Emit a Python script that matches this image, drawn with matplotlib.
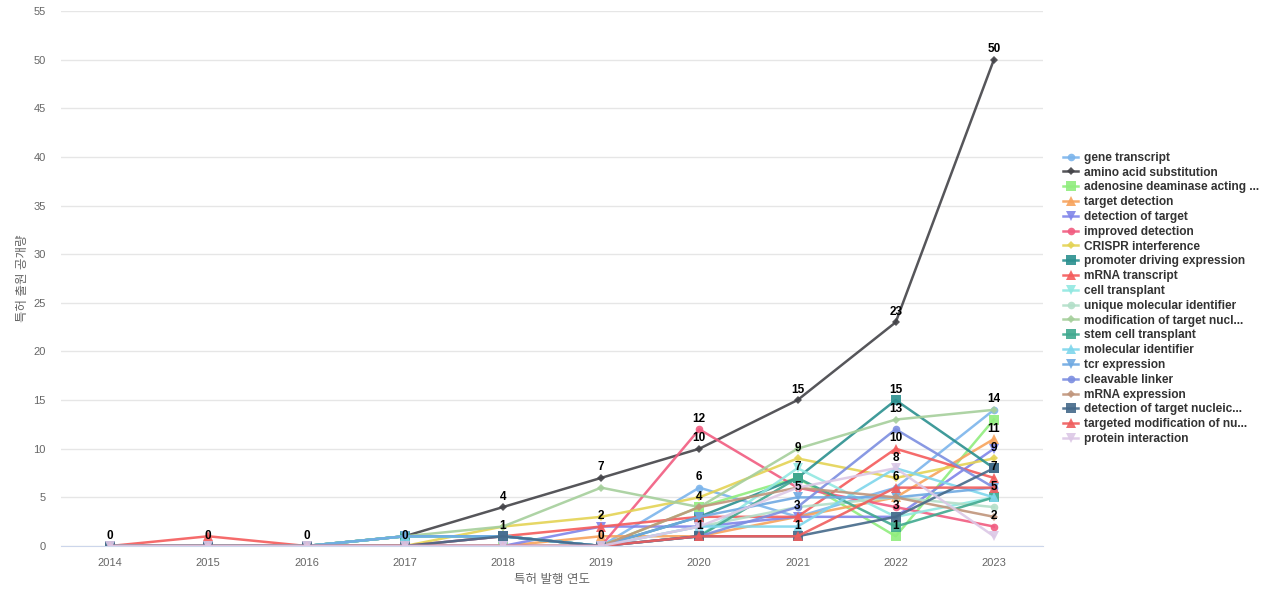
import numpy as np
import matplotlib
matplotlib.use("Agg")
import matplotlib.pyplot as plt

plt.rcParams["font.family"] = ["Liberation Sans", "Noto Sans CJK KR"]

years = [2014, 2015, 2016, 2017, 2018, 2019, 2020, 2021, 2022, 2023]

gene_transcript = [0, 0, 0, 0, 1, 0, 6, 3, 6, 14]
amino_acid_substitution = [0, 0, 0, 1, 4, 7, 10, 15, 23, 50]
adenosine_deaminase = [0, 0, 0, 0, 0, 0, 4, 7, 1, 13]
target_detection = [0, 0, 0, 0, 0, 1, 1, 3, 5, 11]
detection_of_target = [0, 0, 0, 0, 0, 2, 2, 3, 3, 10]
improved_detection = [0, 0, 0, 0, 0, 0, 12, 6, 4, 2]
crispr_interference = [0, 0, 0, 0, 2, 3, 5, 9, 7, 9]
promoter_driving = [0, 0, 0, 1, 1, 0, 3, 7, 15, 8]
mrna_transcript = [0, 1, 0, 0, 1, 2, 3, 3, 10, 7]
cell_transplant = [0, 0, 0, 1, 1, 0, 1, 8, 3, 5]
unique_molecular_id = [0, 0, 0, 1, 1, 0, 2, 4, 5, 4]
modification_target = [0, 0, 0, 1, 2, 6, 4, 10, 13, 14]
stem_cell_transplant = [0, 0, 0, 1, 1, 0, 1, 7, 2, 5]
molecular_identifier = [0, 0, 0, 1, 1, 0, 2, 2, 8, 5]
tcr_expression = [0, 0, 0, 1, 1, 0, 3, 5, 5, 6]
cleavable_linker = [0, 0, 0, 0, 0, 0, 1, 4, 12, 6]
mrna_expression = [0, 0, 0, 0, 0, 0, 4, 6, 5, 3]
detection_nucleic = [0, 0, 0, 0, 1, 0, 1, 1, 3, 8]
targeted_modification = [0, 0, 0, 0, 0, 0, 1, 1, 6, 6]
protein_interaction = [0, 0, 0, 0, 0, 0, 2, 6, 8, 1]

series = [
    ("gene transcript", gene_transcript, "#7cb5ec", "o"),
    ("amino acid substitution", amino_acid_substitution, "#434348", "D"),
    ("adenosine deaminase acting ...", adenosine_deaminase, "#90ed7d", "s"),
    ("target detection", target_detection, "#f7a35c", "^"),
    ("detection of target", detection_of_target, "#8085e9", "v"),
    ("improved detection", improved_detection, "#f15c80", "o"),
    ("CRISPR interference", crispr_interference, "#e4d354", "D"),
    ("promoter driving expression", promoter_driving, "#2b908f", "s"),
    ("mRNA transcript", mrna_transcript, "#f45b5b", "^"),
    ("cell transplant", cell_transplant, "#91e8e1", "v"),
    ("unique molecular identifier", unique_molecular_id, "#b3dfc9", "o"),
    ("modification of target nucl...", modification_target, "#a5cf9b", "D"),
    ("stem cell transplant", stem_cell_transplant, "#40a98f", "s"),
    ("molecular identifier", molecular_identifier, "#7fd6ec", "^"),
    ("tcr expression", tcr_expression, "#6fa9e2", "v"),
    ("cleavable linker", cleavable_linker, "#7c8ee0", "o"),
    ("mRNA expression", mrna_expression, "#c0957b", "D"),
    ("detection of target nucleic...", detection_nucleic, "#45698a", "s"),
    ("targeted modification of nu...", targeted_modification, "#ef5d5d", "^"),
    ("protein interaction", protein_interaction, "#dcc8e6", "v"),
]

fig = plt.figure(figsize=(12.8, 6), dpi=100)
ax = fig.add_axes([61 / 1280, 54 / 600, (1043 - 61) / 1280, (546 - 11) / 600])

x = np.arange(len(years))
for name, vals, color, mk in series:
    ms = 6.5 if mk in ("s", "^", "v") else 5.5
    if mk == "D":
        ms = 4.5
    ax.plot(x, vals, color=color, lw=1.8, alpha=0.9, marker=mk, ms=ms,
            markeredgewidth=0, label=name)

ax.set_xlim(-0.5, len(years) - 0.5)
ax.set_ylim(0, 55)
ax.set_yticks(range(0, 56, 5))
ax.set_xticks(x)
ax.set_xticklabels([str(y) for y in years])
ax.grid(axis="y", color="#e6e6e6", lw=1)
ax.set_axisbelow(True)
for s in ("left", "right", "top"):
    ax.spines[s].set_visible(False)
ax.spines["bottom"].set_color("#ccd6eb")
ax.tick_params(axis="both", length=0, labelsize=8, labelcolor="#666666")
ax.tick_params(axis="x", pad=9)
ax.tick_params(axis="y", pad=11)
ax.set_xlabel("특허 발행 연도", fontsize=9, color="#666666", labelpad=4)
ax.set_ylabel("특허 출원 공개량", fontsize=9, color="#666666", labelpad=3)

# data labels, hidden when they would overlap one already drawn
fig.canvas.draw()
for i in range(len(years)):
    shown = []
    for name, vals, color, mk in series:
        py = ax.transData.transform((i, vals[i]))[1]
        if any(abs(py - p) < 12 for p in shown):
            continue
        shown.append(py)
        ax.annotate(str(vals[i]), (i, vals[i]), xytext=(0, 7.5),
                    textcoords="offset points", ha="center", va="center",
                    fontsize=8.5, fontweight="bold", color="#000000",
                    annotation_clip=False, zorder=10)

leg = fig.legend(loc="upper left", bbox_to_anchor=(1058 / 1280, 1 - 147 / 600),
                 frameon=False, fontsize=8.6, labelspacing=0.235,
                 handlelength=1.3, handletextpad=0.5, borderaxespad=0)
for t in leg.get_texts():
    t.set_fontweight("bold")
    t.set_color("#333333")

fig.savefig("out.png", dpi=100)
